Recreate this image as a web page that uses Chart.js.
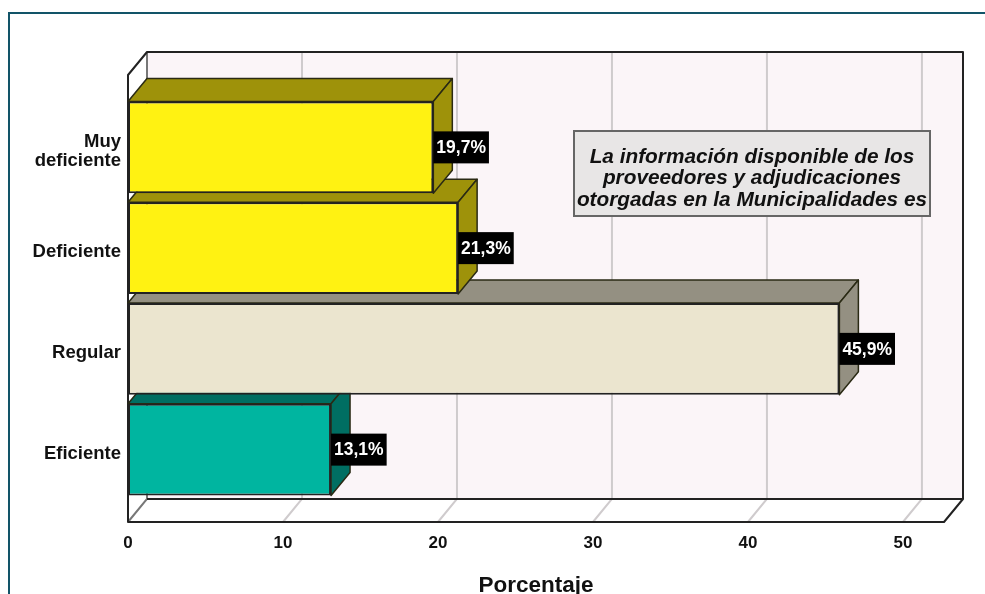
<!DOCTYPE html>
<html>
<head>
<meta charset="utf-8">
<style>html,body{margin:0;padding:0;background:#fff;overflow:hidden}canvas{display:block}</style>
<script src="https://cdn.jsdelivr.net/npm/chart.js@4"></script>
</head>
<body>
<canvas id="c" width="985" height="594"></canvas>
<script>
const categories = [["Muy","deficiente"],"Deficiente","Regular","Eficiente"];
const values = [19.7,21.3,45.9,13.1];
const frontColors = ["#FFF212","#FFF212","#EBE5CF","#00B5A0"];
const sideColors = ["#9E920A","#9E920A","#949082","#006E62"];
const axisMax = 52.65;
const tickValues = [0,10,20,30,40,50];
const axisTitle = "Porcentaje";
const noteLines = ["La información disponible de los","proveedores y adjudicaciones","otorgadas en la Municipalidades es"];

const FONT = '"Liberation Sans", Arial, sans-serif';
const DX = 19, DY = 23, EDGE = '#222';

function poly(ctx, pts, fill, stroke, lw){
  ctx.beginPath();
  pts.forEach((p,i)=> i ? ctx.lineTo(p[0],p[1]) : ctx.moveTo(p[0],p[1]));
  ctx.closePath();
  if(fill){ctx.fillStyle=fill;ctx.fill();}
  if(stroke){ctx.strokeStyle=stroke;ctx.lineWidth=lw||2;ctx.lineJoin='round';ctx.stroke();}
}

const scene = {
  id:'scene',
  beforeDatasetsDraw(chart){
    const {ctx, chartArea:a, scales:{x}} = chart;
    const L=a.left, R=a.right, T=a.top-22, B=a.bottom+22;
    ctx.save();
    // page frame
    ctx.strokeStyle='#125468'; ctx.lineWidth=2;
    ctx.beginPath(); ctx.moveTo(9,594); ctx.lineTo(9,13); ctx.lineTo(985,13); ctx.stroke();
    // back wall
    ctx.fillStyle='#FBF5F8'; ctx.fillRect(L+DX,T-DY,R-L,B-T);
    // left wall and floor
    poly(ctx,[[L,T],[L+DX,T-DY],[L+DX,B-DY],[L,B]],'#fff');
    poly(ctx,[[L,B],[L+DX,B-DY],[R+DX,B-DY],[R,B]],'#fff');
    // grid lines on wall and floor
    tickValues.forEach(v=>{
      const px=x.getPixelForValue(v);
      ctx.strokeStyle = v===0 ? '#777' : '#cfcbcd'; ctx.lineWidth=2;
      ctx.beginPath(); ctx.moveTo(px,B); ctx.lineTo(px+DX,B-DY); ctx.lineTo(px+DX,T-DY); ctx.stroke();
    });
    // outlines
    ctx.strokeStyle=EDGE; ctx.lineWidth=2; ctx.lineJoin='round';
    ctx.beginPath();
    ctx.moveTo(L,B); ctx.lineTo(L,T); ctx.lineTo(L+DX,T-DY); ctx.lineTo(R+DX,T-DY);
    ctx.lineTo(R+DX,B-DY); ctx.lineTo(R,B); ctx.closePath();
    ctx.moveTo(L+DX,B-DY); ctx.lineTo(R+DX,B-DY);
    ctx.stroke();
    // bar depth faces, lowest bar first
    const bars = chart.getDatasetMeta(0).data;
    for(let i=bars.length-1;i>=0;i--){
      const b=bars[i].getProps(['x','y','base','height'],true);
      const top=b.y-b.height/2, bot=b.y+b.height/2;
      poly(ctx,[[b.base,top],[b.base+DX,top-DY],[b.x+DX,top-DY],[b.x,top]],sideColors[i],'#2a2a14',1.5);
      poly(ctx,[[b.x,top],[b.x+DX,top-DY],[b.x+DX,bot-DY],[b.x,bot]],sideColors[i],'#2a2a14',1.5);
    }
    ctx.restore();
  },
  afterDatasetsDraw(chart){
    const {ctx} = chart;
    ctx.save();
    // value labels
    ctx.font='bold 17.5px '+FONT;
    ctx.textBaseline='middle'; ctx.textAlign='left';
    chart.getDatasetMeta(0).data.forEach((bar,i)=>{
      const b=bar.getProps(['x','y'],true);
      const s=values[i].toFixed(1).replace('.',',')+'%';
      const w=ctx.measureText(s).width+6;
      ctx.fillStyle='#000'; ctx.fillRect(b.x,b.y-16,w,32);
      ctx.fillStyle='#fff'; ctx.fillText(s,b.x+3,b.y+1);
    });
    // note box
    ctx.fillStyle='#E8E6E6'; ctx.fillRect(574,131,356,85);
    ctx.strokeStyle='#666'; ctx.lineWidth=2; ctx.strokeRect(574,131,356,85);
    ctx.fillStyle='#111'; ctx.textAlign='center';
    ctx.font='italic bold 20.8px '+FONT;
    noteLines.forEach((t,i)=>ctx.fillText(t,752,157+i*21.5));
    ctx.restore();
  }
};

new Chart(document.getElementById('c'),{
  type:'bar',
  data:{labels:categories,datasets:[{
    data:values,backgroundColor:frontColors,borderColor:EDGE,borderWidth:2,borderSkipped:false,
    barPercentage:0.91,categoryPercentage:1
  }]},
  plugins:[scene],
  options:{
    indexAxis:'y',responsive:false,animation:false,
    layout:{padding:{top:97,right:41,left:0,bottom:0}},
    plugins:{legend:{display:false},tooltip:{enabled:false},title:{display:false}},
    scales:{
      x:{min:0,max:axisMax,
        afterFit(s){s.height=94;},
        afterBuildTicks(s){s.ticks=tickValues.map(value=>({value}));},
        grid:{display:false,drawTicks:false,tickLength:0},border:{display:false},
        ticks:{padding:33,maxRotation:0,color:'#111',font:{family:FONT,size:17,weight:'bold'}},
        title:{display:true,text:axisTitle,color:'#111',font:{family:FONT,size:22.5,weight:'bold'},padding:{top:0,bottom:-5}}
      },
      y:{
        afterFit(s){s.width=128;},
        grid:{display:false,drawTicks:false,tickLength:0},border:{display:false},
        ticks:{padding:7,labelOffset:4,color:'#111',font:{family:FONT,size:18.5,weight:'bold',lineHeight:1.03},autoSkip:false}
      }
    }
  }
});
</script>
</body>
</html>
